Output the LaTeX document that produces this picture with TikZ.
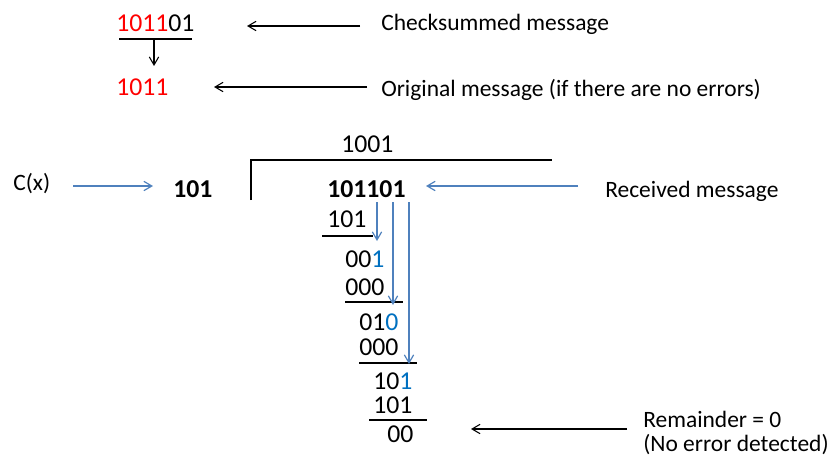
\documentclass[tikz,border=0pt]{standalone}
\usepackage{fontspec}
\setmainfont{Carlito}
\usetikzlibrary{arrows.meta}
\definecolor{arrowblue}{RGB}{79,129,189}
\definecolor{digitblue}{RGB}{0,112,192}
\begin{document}
\begin{tikzpicture}[x=0.75pt,y=-0.75pt,
  txt/.style={anchor=base west,inner sep=0pt,font=\fontsize{17.6}{21}\selectfont},
  num/.style={anchor=base west,inner sep=0pt,font=\fontsize{19.3}{23}\selectfont},
  blk/.style={draw=black,line width=0.8pt,-{Straight Barb[length=6pt,width=7pt]}},
  blu/.style={draw=arrowblue,line width=0.9pt,-{Straight Barb[length=6pt,width=7pt]}},
  rule/.style={draw=black,line width=0.8pt}]
\useasboundingbox (0,0) rectangle (834,460);

% top: checksummed message and the original message it carries
\node[num] (cks) at (116,32) {\textcolor{red}{1011}01};
\node[num] (orig) at (116,95) {\textcolor{red}{1011}};
\coordinate (ulA) at (119,39);
\coordinate (ulB) at (192,39);
\draw[rule] (ulA) -- (ulB);
\coordinate (dnA) at (154,39);
\coordinate (dnB) at (154,66);
\draw[blk] (dnA) -- (dnB);

\node[txt] (lblcks) at (381,31) {Checksummed message};
\node[txt] (lblorig) at (381,96) {Original message (if there are no errors)};
\coordinate (ackA) at (360,26);
\coordinate (ackB) at (247,26);
\draw[blk] (ackA) -- (ackB);
\coordinate (aorA) at (367,87);
\coordinate (aorB) at (214,87);
\draw[blk] (aorA) -- (aorB);

% long division
\node[num] (quot) at (341,152) {1001};
\coordinate (brA) at (251,200);
\coordinate (brB) at (251,160);
\coordinate (brC) at (552,160);
\draw[rule] (brA) -- (brB) -- (brC);

\node[txt] (cx) at (13,190) {C(x)};
\node[num] (div) at (173,197) {\textbf{101}};
\coordinate (acxA) at (73,186);
\coordinate (acxB) at (153,186);
\draw[blu] (acxA) -- (acxB);

\node[num] (dvd) at (327,197) {\textbf{101101}};
\node[txt] (lblrec) at (605,197) {Received message};
\coordinate (arcA) at (578,186);
\coordinate (arcB) at (426,186);
\draw[blu] (arcA) -- (arcB);

\node[num] (s1) at (327,227) {101};
\draw[rule] (322,236) coordinate (l1a) -- (373,236) coordinate (l1b);
\node[num] (r1) at (345,267) {00\textcolor{digitblue}{1}};
\node[num] (s2) at (345,295) {000};
\draw[rule] (345,302) coordinate (l2a) -- (403,302) coordinate (l2b);
\node[num] (r2) at (359,330) {01\textcolor{digitblue}{0}};
\node[num] (s3) at (359,355) {000};
\draw[rule] (359,363) coordinate (l3a) -- (417,363) coordinate (l3b);
\node[num] (r3) at (373,389) {10\textcolor{digitblue}{1}};
\node[num] (s4) at (373,413) {101};
\draw[rule] (369,420) coordinate (l4a) -- (427,420) coordinate (l4b);
\node[num] (rem) at (387,442) {00};

% bring-down arrows
\coordinate (bd1a) at (377,202); \coordinate (bd1b) at (377,241);
\coordinate (bd2a) at (393,202); \coordinate (bd2b) at (393,305);
\coordinate (bd3a) at (409,202); \coordinate (bd3b) at (409,364);
\draw[blu] (bd1a) -- (bd1b);
\draw[blu] (bd2a) -- (bd2b);
\draw[blu] (bd3a) -- (bd3b);

% remainder note
\node[txt] (lblrem) at (643,427) {Remainder = 0};
\node[txt] (lblnoe) at (643,451) {(No error detected)};
\coordinate (aremA) at (627,429);
\coordinate (aremB) at (471,429);
\draw[blk] (aremA) -- (aremB);
\end{tikzpicture}
\end{document}
